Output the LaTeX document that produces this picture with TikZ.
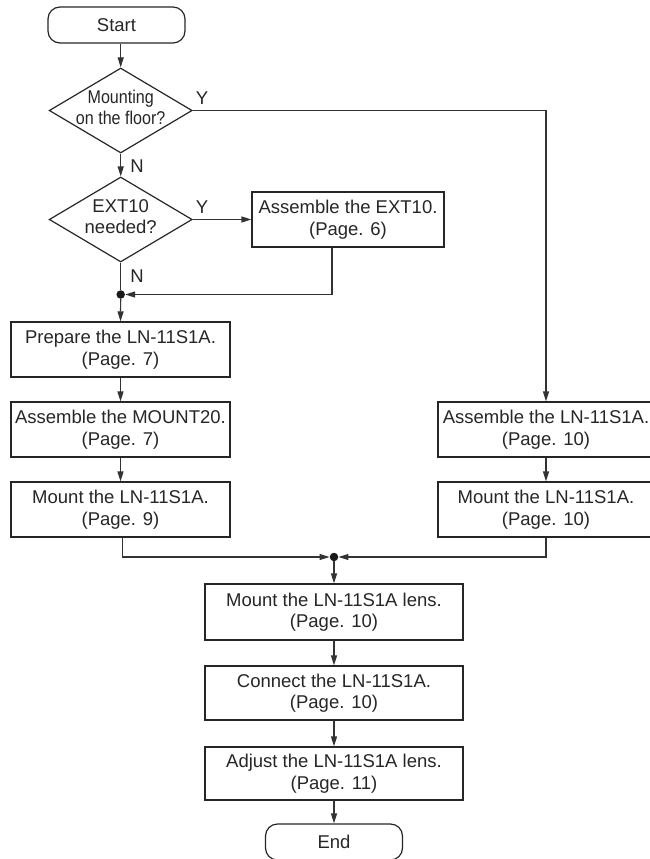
\documentclass[tikz,border=0pt]{standalone}
\usepackage{fontspec}
\setmainfont{Liberation Sans}
\newfontfamily\condfont[FakeStretch=0.87]{Liberation Sans}
\usetikzlibrary{shapes.geometric,arrows.meta}
\begin{document}
\begin{tikzpicture}[x=1pt,y=-1pt,
  every node/.style={font=\fontsize{18.5}{21.5}\selectfont, text=black!85},
  stepbox/.style={draw=black!85, line width=1.2pt, rectangle, inner sep=0pt, align=center, minimum height=55pt},
  term/.style={draw=black!85, line width=1.2pt, rounded corners=12pt, minimum width=137pt, minimum height=36pt, inner sep=0pt},
  decision/.style={draw=black!85, line width=1.2pt, diamond, minimum width=143pt, minimum height=85pt, inner sep=0pt},
  dot/.style={circle, fill=black!90, inner sep=0pt, minimum size=8.5pt},
  conn/.style={line width=1.2pt, draw=black!80},
  arr/.style={conn, -{Triangle[length=10pt,width=6pt]}},
  lbl/.style={inner sep=0pt, align=center},
]
\clip (0,0) rectangle (650,859);

% terminals
\node[term] (start) at (116.5,25) {Start};
\node[term] (endn) at (334,842) {End};

% decisions
\node[decision] (d1) at (120.7,110.5) {};
\node[lbl] (d1t) at ([yshift=3pt]d1.center) {\condfont Mounting\\\condfont on the floor?};
\node[decision] (d2) at (120.7,219.5) {};
\node[lbl] (d2t) at ([yshift=3pt]d2.center) {EXT10\\needed?};

% process boxes
\node[stepbox, minimum width=192pt] (ext) at (348,219.5) {Assemble the EXT10.\\(Page. 6)};
\node[stepbox, minimum width=219pt] (prep) at (120.5,349.5) {Prepare the LN-11S1A.\\(Page. 7)};
\node[stepbox, minimum width=219pt] (mount20) at (120.5,429.5) {Assemble the MOUNT20.\\(Page. 7)};
\node[stepbox, minimum width=219pt] (mountL) at (120.5,509.5) {Mount the LN-11S1A.\\(Page. 9)};
\node[stepbox, minimum width=216pt] (asmR) at (546,429.5) {Assemble the LN-11S1A.\\(Page. 10)};
\node[stepbox, minimum width=216pt] (mountR) at (546,509.5) {Mount the LN-11S1A.\\(Page. 10)};
\node[stepbox, minimum width=258pt, minimum height=56pt] (lens) at (334,612) {Mount the LN-11S1A lens.\\(Page. 10)};
\node[stepbox, minimum width=258pt, minimum height=54pt] (connbox) at (334,693) {Connect the LN-11S1A.\\(Page. 10)};
\node[stepbox, minimum width=258pt, minimum height=53pt] (adj) at (334,773.5) {Adjust the LN-11S1A lens.\\(Page. 11)};

% junctions
\node[dot] (j1) at (120.7,294.5) {};
\node[dot] (j2) at (334,557) {};

% Y / N labels
\node[lbl] (y1) at (202,98) {Y};
\node[lbl] (n1) at (137,166) {N};
\node[lbl] (y2) at (202,207) {Y};
\node[lbl] (n2) at (137,276) {N};

% connectors
\draw[arr] (start.south -| d1.north) -- (d1.north);
\draw[arr] (d1.south) -- (d2.north);
\draw[arr] (d1.east) -| (asmR.north);
\draw[arr] (d2.east) -- (ext.west);
\draw[conn] (d2.south) -- (j1);
\draw[arr] ([xshift=-16pt]ext.south) |- (j1);
\draw[arr] (j1) -- (prep.north);
\draw[arr] (prep.south) -- (mount20.north);
\draw[arr] (mount20.south) -- (mountL.north);
\draw[arr] (asmR.south) -- (mountR.north);
\draw[arr] ([xshift=2pt]mountL.south) |- (j2);
\draw[arr] (mountR.south) |- (j2);
\draw[arr] (j2) -- (lens.north);
\draw[arr] (lens.south) -- (connbox.north);
\draw[arr] (connbox.south) -- (adj.north);
\draw[arr] (adj.south) -- (endn.north);
\end{tikzpicture}
\end{document}
